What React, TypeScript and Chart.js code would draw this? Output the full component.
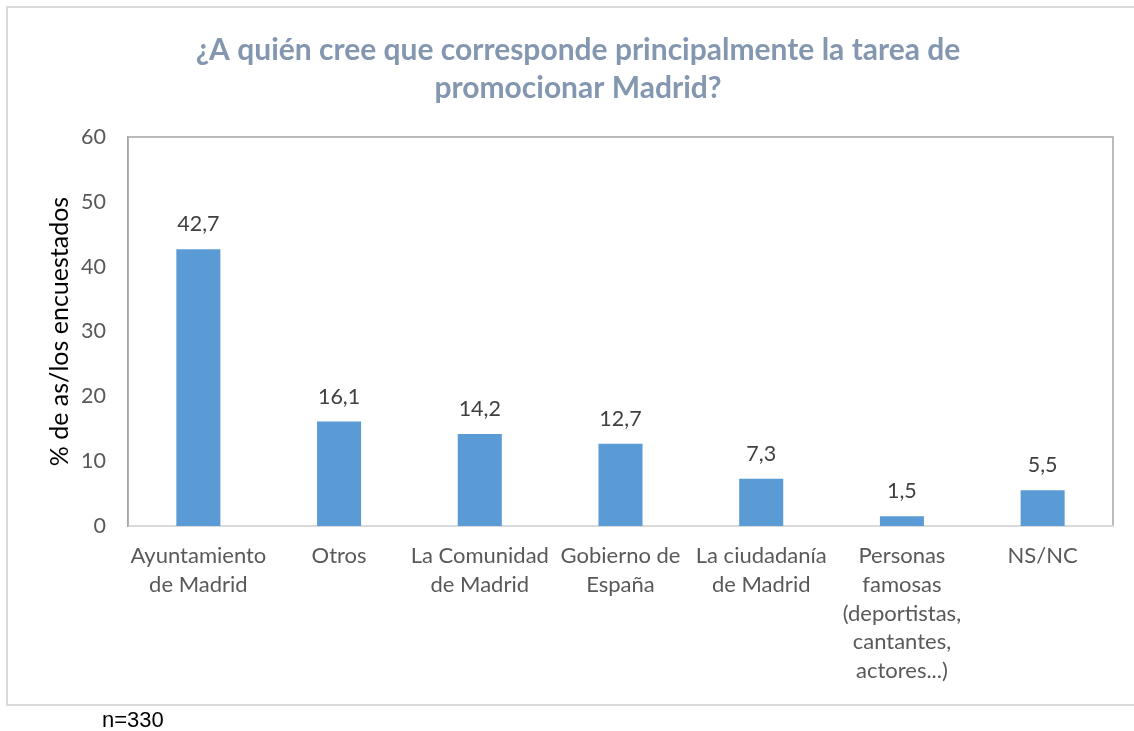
import React, { useEffect, useRef } from "react";
import { Chart, registerables } from "chart.js";

Chart.register(...registerables);

const categories: string[][] = [
  ["Ayuntamiento", "de Madrid"],
  ["Otros"],
  ["La Comunidad", "de Madrid"],
  ["Gobierno de", "España"],
  ["La ciudadanía", "de Madrid"],
  ["Personas", "famosas", "(deportistas,", "cantantes,", "actores...)"],
  ["NS/NC"],
];
const values: number[] = [42.7, 16.1, 14.2, 12.7, 7.3, 1.5, 5.5];
const titleLines: string[] = ["¿A quién cree que corresponde principalmente la tarea de", "promocionar Madrid?"];
const yAxisTitle = "% de as/los encuestados";
const footnote = "n=330";
const yMin = 0;
const yMax = 60;
const yStep = 10;

const FONT = "Lato, 'Open Sans', sans-serif";

const decorPlugin = {
  id: "decor",
  beforeDraw(chart: any) {
    const { ctx, chartArea } = chart;
    ctx.save();
    ctx.fillStyle = "#ffffff";
    ctx.fillRect(0, 0, chart.width, chart.height);
    ctx.strokeStyle = "#d9d9d9";
    ctx.lineWidth = 2;
    ctx.strokeRect(7, 7, 1150, 698);
    ctx.strokeStyle = "#a6a6a6";
    ctx.lineWidth = 1.5;
    ctx.strokeRect(chartArea.left, chartArea.top, chartArea.right - chartArea.left, chartArea.bottom - chartArea.top);
    // title
    ctx.fillStyle = "#8497b0";
    ctx.font = `bold 30px ${FONT}`;
    ctx.textAlign = "center";
    ctx.textBaseline = "middle";
    titleLines.forEach((l, i) => ctx.fillText(l, 578, 50 + i * 38));
    // footnote
    ctx.fillStyle = "#000000";
    ctx.font = `22px 'Liberation Sans', Arial, sans-serif`;
    ctx.textAlign = "left";
    ctx.fillText(footnote, 102, 721);
    ctx.restore();
  },
  afterDatasetsDraw(chart: any) {
    const { ctx } = chart;
    const meta = chart.getDatasetMeta(0);
    ctx.save();
    ctx.fillStyle = "#404040";
    ctx.font = `21.5px ${FONT}`;
    ctx.textAlign = "center";
    ctx.textBaseline = "middle";
    meta.data.forEach((bar: any, i: number) => {
      const txt = values[i].toFixed(1).replace(".", ",");
      ctx.fillText(txt, bar.x, bar.y - 25);
    });
    ctx.restore();
  },
};

export default function App() {
  const ref = useRef<HTMLCanvasElement | null>(null);
  useEffect(() => {
    if (!ref.current) return;
    const chart = new Chart(ref.current, {
      type: "bar",
      data: {
        labels: categories,
        datasets: [
          {
            data: values,
            backgroundColor: "#5b9bd5",
            categoryPercentage: 1,
            barPercentage: 0.313,
          },
        ],
      },
      options: {
        animation: false,
        responsive: false,
        devicePixelRatio: 1,
        layout: { padding: { left: 30, right: 21, top: 137, bottom: 0 } },
        plugins: {
          legend: { display: false },
          tooltip: { enabled: false },
          title: { display: false },
        },
        scales: {
          x: {
            grid: { display: false, drawTicks: false },
            border: { display: true, color: "#d9d9d9", width: 2 },
            ticks: {
              color: "#595959",
              font: { family: FONT, size: 22, lineHeight: 1.3 },
              padding: 16,
              autoSkip: false,
              maxRotation: 0,
              minRotation: 0,
            },
            afterFit: (s: any) => {
              s.height = 205;
            },
          },
          y: {
            min: yMin,
            max: yMax,
            grid: { display: false, drawTicks: false },
            border: { display: true, color: "#a6a6a6", width: 1.5 },
            ticks: {
              stepSize: yStep,
              color: "#595959",
              font: { family: FONT, size: 21.5 },
              padding: 22,
            },
            title: {
              display: true,
              text: yAxisTitle,
              color: "#000000",
              font: { family: FONT, size: 25 },
              padding: { top: 15, bottom: 0 },
            },
            afterFit: (s: any) => {
              s.width = 98;
            },
          },
        },
      },
      plugins: [decorPlugin],
    });
    return () => chart.destroy();
  }, []);
  return (
    <div style={{ position: "absolute", left: 0, top: 0, width: 1134, height: 731, background: "#fff" }}>
      <canvas ref={ref} width={1134} height={731} style={{ display: "block", width: 1134, height: 731 }} />
    </div>
  );
}
